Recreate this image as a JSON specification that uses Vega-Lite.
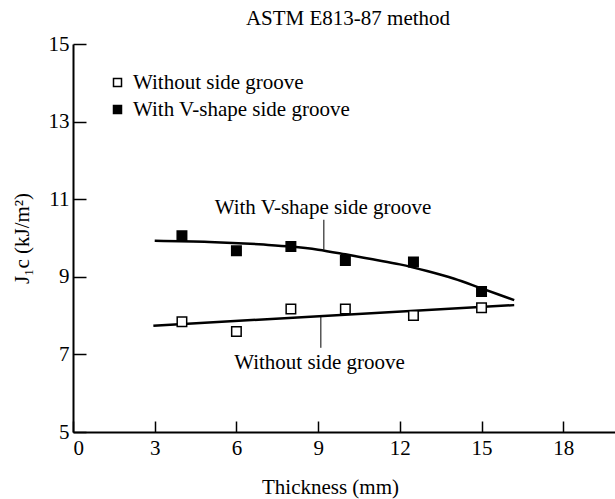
{
  "$schema": "https://vega.github.io/schema/vega-lite/v6.json",
  "width": 542,
  "height": 388,
  "autosize": {"type": "none"},
  "padding": {"left": 73, "top": 44, "right": 0, "bottom": 67},
  "background": "white",
  "config": {"view": {"stroke": null}, "font": "Liberation Serif"},
  "title": {"text": "ASTM E813-87 method", "font": "Liberation Serif", "fontSize": 21, "fontWeight": "normal", "color": "black", "anchor": "middle", "offset": 4, "dx": 4},
  "datasets": {
    "points": [
      {"thickness": 4, "J": 7.84, "series": "Without side groove"},
      {"thickness": 6, "J": 7.59, "series": "Without side groove"},
      {"thickness": 8, "J": 8.17, "series": "Without side groove"},
      {"thickness": 10, "J": 8.17, "series": "Without side groove"},
      {"thickness": 12.5, "J": 8.0, "series": "Without side groove"},
      {"thickness": 15, "J": 8.2, "series": "Without side groove"},
      {"thickness": 4, "J": 10.06, "series": "With V-shape side groove"},
      {"thickness": 6, "J": 9.67, "series": "With V-shape side groove"},
      {"thickness": 8, "J": 9.78, "series": "With V-shape side groove"},
      {"thickness": 10, "J": 9.42, "series": "With V-shape side groove"},
      {"thickness": 12.5, "J": 9.38, "series": "With V-shape side groove"},
      {"thickness": 15, "J": 8.62, "series": "With V-shape side groove"}
    ],
    "fits": [
      {"thickness": 2.95, "J": 7.74, "curve": "without"},
      {"thickness": 16.2, "J": 8.27, "curve": "without"},
      {"thickness": 3, "J": 9.93, "curve": "with"},
      {"thickness": 5, "J": 9.9, "curve": "with"},
      {"thickness": 7, "J": 9.83, "curve": "with"},
      {"thickness": 8, "J": 9.78, "curve": "with"},
      {"thickness": 9, "J": 9.7, "curve": "with"},
      {"thickness": 10, "J": 9.58, "curve": "with"},
      {"thickness": 11, "J": 9.45, "curve": "with"},
      {"thickness": 12, "J": 9.32, "curve": "with"},
      {"thickness": 13, "J": 9.15, "curve": "with"},
      {"thickness": 14, "J": 8.95, "curve": "with"},
      {"thickness": 15, "J": 8.7, "curve": "with"},
      {"thickness": 16.2, "J": 8.4, "curve": "with"}
    ],
    "leaders": [
      {"thickness": 9.21, "J": 10.47, "J2": 9.7},
      {"thickness": 9.1, "J": 7.98, "J2": 7.17}
    ],
    "labels": [
      {"thickness": 9.18, "J": 10.78, "label": "With V-shape side groove"},
      {"thickness": 9.05, "J": 6.79, "label": "Without side groove"}
    ]
  },
  "layer": [
    {
      "data": {"name": "fits"},
      "mark": {"type": "line", "color": "black", "strokeWidth": 2.5, "interpolate": "monotone"},
      "encoding": {
        "x": {"field": "thickness", "type": "quantitative", "scale": {"domain": [0, 19.9], "nice": false},
          "axis": {"values": [0, 3, 6, 9, 12, 15, 18], "title": "Thickness (mm)", "grid": false, "domainColor": "black", "domainWidth": 2, "tickColor": "black", "tickWidth": 1.5, "tickSize": -11, "labelPadding": 16, "labelFont": "Liberation Serif", "labelFontSize": 21, "labelColor": "black", "titleFont": "Liberation Serif", "titleFontSize": 21, "titleFontWeight": "normal", "titleColor": "black", "titleX": 257, "titleY": 55, "titleBaseline": "middle", "titleAnchor": null, "titleAlign": "center"}},
        "y": {"field": "J", "type": "quantitative", "scale": {"domain": [5, 15], "nice": false},
          "axis": {"values": [5, 7, 9, 11, 13, 15], "title": "J₁c (kJ/m²)", "grid": false, "domainColor": "black", "domainWidth": 2, "tickColor": "black", "tickWidth": 1.5, "tickSize": -13, "labelPadding": 17, "labelFont": "Liberation Serif", "labelFontSize": 21, "labelColor": "black", "titleFont": "Liberation Serif", "titleFontSize": 21, "titleFontWeight": "normal", "titleColor": "black", "titleX": -51, "titleY": 194, "titleAngle": -90, "titleBaseline": "middle", "titleAlign": "center"}},
        "detail": {"field": "curve"}
      }
    },
    {
      "data": {"name": "points"},
      "mark": {"type": "point", "shape": "square", "filled": true, "stroke": "black", "strokeWidth": 1.5, "size": 90, "opacity": 1},
      "encoding": {
        "x": {"field": "thickness", "type": "quantitative"},
        "y": {"field": "J", "type": "quantitative"},
        "fill": {"field": "series", "type": "nominal",
          "scale": {"domain": ["Without side groove", "With V-shape side groove"], "range": ["white", "black"]},
          "legend": {"orient": "none", "legendX": 34, "legendY": 28, "title": null, "labelFont": "Liberation Serif", "labelFontSize": 21, "labelColor": "black", "labelLimit": 0, "symbolType": "square", "symbolSize": 64, "symbolStrokeColor": "black", "symbolStrokeWidth": 1.5, "labelOffset": 5, "rowPadding": 5}}
      }
    },
    {
      "data": {"name": "leaders"},
      "mark": {"type": "rule", "color": "black", "strokeWidth": 1},
      "encoding": {
        "x": {"field": "thickness", "type": "quantitative"},
        "y": {"field": "J", "type": "quantitative"},
        "y2": {"field": "J2"}
      }
    },
    {
      "data": {"name": "labels"},
      "mark": {"type": "text", "font": "Liberation Serif", "fontSize": 21, "color": "black", "align": "center", "baseline": "middle"},
      "encoding": {
        "x": {"field": "thickness", "type": "quantitative"},
        "y": {"field": "J", "type": "quantitative"},
        "text": {"field": "label"}
      }
    }
  ]
}
